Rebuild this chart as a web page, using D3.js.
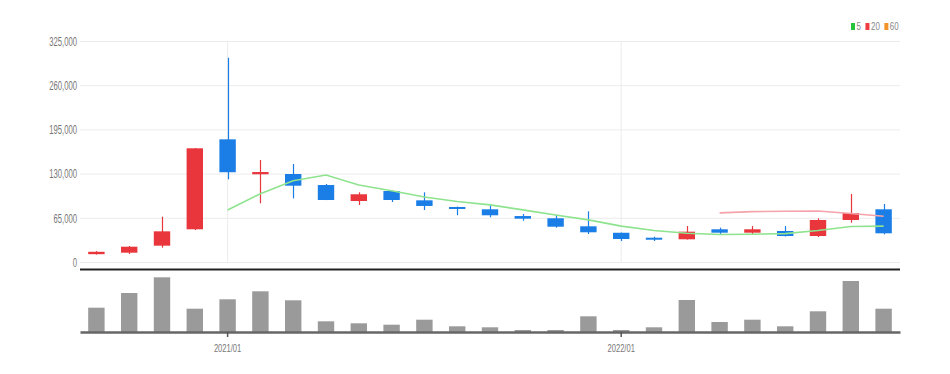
<!DOCTYPE html>
<html>
<head>
<meta charset="utf-8">
<script src="https://cdn.jsdelivr.net/npm/d3@7"></script>
<style>
  body { margin: 0; background: #fff; }
  svg { display: block; font-family: "Liberation Sans", Arial, sans-serif; }
</style>
</head>
<body>
<div id="chart"></div>
<script>
// monthly candles
const months = ["2020/09","2020/10","2020/11","2020/12","2021/01","2021/02","2021/03","2021/04",
  "2021/05","2021/06","2021/07","2021/08","2021/09","2021/10","2021/11","2021/12",
  "2022/01","2022/02","2022/03","2022/04","2022/05","2022/06","2022/07","2022/08","2022/09"];
const open  = [11500, 13700, 24000, 48100, 180400, 129000, 129400, 113200, 89700, 104400, 90700, 80900,
  77500, 67600, 64300, 52500, 43000, 35700, 33400, 48100, 43100, 45600, 38200, 61800, 77500];
const high  = [16000, 23500, 66600, 167500, 300400, 150000, 144100, 114700, 102500, 104600, 102500, 81500,
  84800, 70600, 69100, 74600, 43300, 37200, 52900, 50500, 52900, 52900, 64300, 100000, 85300];
const low   = [11000, 11800, 21000, 47000, 121600, 86300, 93600, 91000, 83800, 88200, 76500, 68700,
  65700, 60700, 50500, 41200, 30900, 30900, 33000, 40700, 40700, 37500, 36800, 57800, 40700];
const close = [15000, 22500, 45100, 167200, 132000, 132300, 112200, 91200, 99600, 91200, 82400, 78400,
  68700, 63700, 51900, 43700, 33800, 33400, 44600, 43100, 48100, 38200, 61800, 72100, 42200];
const volume = [2430000, 3900000, 5470000, 2330000, 3270000, 4070000, 3170000, 1070000, 870000, 730000,
  1230000, 570000, 470000, 200000, 200000, 1570000, 200000, 470000, 3200000, 1000000, 1230000, 570000,
  2070000, 5100000, 2330000];
// moving averages as drawn (null = not drawn)
const ma5 = [null, null, null, null, 76500, 100500, 119500, 128000, 113300, 104800, 95600, 89000,
  84000, 76700, 69000, 62000, 52800, 46300, 42300, 40500, 40900, 41800, 46300, 52300, 52700];
const ma20 = [null, null, null, null, null, null, null, null, null, null, null, null, null, null, null,
  null, null, null, null, 72300, 74100, 74700, 75000, 71400, 67200];
const priceTicks = [0, 65000, 130000, 195000, 260000, 325000];
const monthTicks = ["2021/01", "2022/01"];
const legendItems = [{ name: "5", color: "#27c33b" }, { name: "20", color: "#ef3b42" }, { name: "60", color: "#f2922b" }];

const width = 950, height = 374;
const left = 80, right = 900;
const priceTop = 41, priceBottom = 262;
const volTop = 272, volBottom = 332;
const upColor = "#e8363c", downColor = "#1a7ee6";

const svg = d3.select("#chart").append("svg")
  .attr("width", width)
  .attr("height", height);

const x = d3.scaleBand()
  .domain(months)
  .range([left, right])
  .paddingInner(0.5)
  .paddingOuter(0.25);
const cx = m => x(m) + x.bandwidth() / 2;

const y = d3.scaleLinear().domain([0, 325000]).range([priceBottom, priceTop]);
const yVol = d3.scaleLinear().domain([0, 6000000]).range([volBottom, volTop]);

// grid
svg.append("g")
  .selectAll("line")
  .data(priceTicks)
  .join("line")
  .attr("x1", left).attr("x2", right)
  .attr("y1", d => y(d) + 0.5).attr("y2", d => y(d) + 0.5)
  .attr("stroke", "#ececec");

svg.append("g")
  .selectAll("line")
  .data(monthTicks)
  .join("line")
  .attr("x1", d => cx(d)).attr("x2", d => cx(d))
  .attr("y1", priceTop).attr("y2", priceBottom)
  .attr("stroke", "#ececec");

// y axis labels (narrow look)
const yAxis = d3.axisLeft(y).tickValues(priceTicks).tickSize(0).tickFormat(d3.format(","));
const yGroup = svg.append("g")
  .attr("transform", `translate(${left - 3},0)`)
  .call(yAxis)
  .call(g => g.select(".domain").remove());
yGroup.selectAll("text")
  .attr("x", 0)
  .attr("dy", "0.35em")
  .attr("transform", d => `translate(0,${y(d)}) scale(0.64,1) translate(0,${-y(d)})`)
  .style("font-size", "12px")
  .style("fill", "#777");

const data = months.map((m, i) => ({
  m, o: open[i], h: high[i], l: low[i], c: close[i], v: volume[i]
}));

// wicks
svg.append("g")
  .selectAll("line")
  .data(data)
  .join("line")
  .attr("x1", d => Math.round(cx(d.m)) + 0.5).attr("x2", d => Math.round(cx(d.m)) + 0.5)
  .attr("y1", d => y(d.h)).attr("y2", d => y(d.l))
  .attr("stroke", d => d.c >= d.o ? upColor : downColor)
  .attr("stroke-width", 1.2);

// bodies
svg.append("g")
  .selectAll("rect")
  .data(data)
  .join("rect")
  .attr("x", d => x(d.m))
  .attr("width", x.bandwidth())
  .attr("y", d => y(Math.max(d.o, d.c)))
  .attr("height", d => Math.max(2, Math.abs(y(d.o) - y(d.c))))
  .attr("fill", d => d.c >= d.o ? upColor : downColor);

// moving average lines
const maLine = d3.line()
  .defined(d => d.v != null)
  .x(d => cx(d.m))
  .y(d => y(d.v));

svg.append("path")
  .datum(months.map((m, i) => ({ m, v: ma5[i] })))
  .attr("d", maLine)
  .attr("fill", "none")
  .attr("stroke", "#8ee38e")
  .attr("stroke-width", 1.6);

svg.append("path")
  .datum(months.map((m, i) => ({ m, v: ma20[i] })))
  .attr("d", maLine)
  .attr("fill", "none")
  .attr("stroke", "#f5a3aa")
  .attr("stroke-width", 1.6);

// legend
const legend = svg.append("g").attr("transform", "translate(851,22)");
let lx = 0;
legendItems.forEach(item => {
  legend.append("rect")
    .attr("x", lx).attr("y", 1)
    .attr("width", 4).attr("height", 7)
    .attr("fill", item.color);
  const t = legend.append("text")
    .attr("x", 0).attr("y", 8)
    .attr("transform", `translate(${lx + 5.5},0) scale(0.8,1)`)
    .style("font-size", "10px")
    .style("fill", "#888")
    .text(item.name);
  lx += 5.5 + t.node().getComputedTextLength() * 0.8 + 4.5;
});

// separator between panels
svg.append("line")
  .attr("x1", left).attr("x2", right)
  .attr("y1", 269.5).attr("y2", 269.5)
  .attr("stroke", "#222")
  .attr("stroke-width", 2);

// volume bars
svg.append("g")
  .selectAll("rect")
  .data(data)
  .join("rect")
  .attr("x", d => x(d.m))
  .attr("width", x.bandwidth())
  .attr("y", d => yVol(d.v))
  .attr("height", d => volBottom - yVol(d.v))
  .attr("fill", "#9a9a9a");

// x axis on volume baseline
const xAxis = d3.axisBottom(x).tickValues(monthTicks).tickSize(5).tickSizeOuter(0);
const xGroup = svg.append("g")
  .attr("transform", `translate(0,${volBottom})`)
  .call(xAxis);
xGroup.select(".domain")
  .attr("stroke", "#666")
  .attr("stroke-width", 2.5);
xGroup.selectAll(".tick line").attr("stroke", "#555").attr("stroke-width", 1.5);
xGroup.selectAll("text")
  .attr("y", 12)
  .attr("dy", "0.71em")
  .attr("transform", function(d) { return `translate(${cx(d)},0) scale(0.66,1) translate(${-cx(d)},0)`; })
  .style("font-size", "11.5px")
  .style("fill", "#777");
xGroup.selectAll(".tick")
  .attr("transform", null)
  .each(function(d) {
    d3.select(this).select("line").attr("x1", cx(d)).attr("x2", cx(d));
    d3.select(this).select("text").attr("x", cx(d));
  });
</script>
</body>
</html>
